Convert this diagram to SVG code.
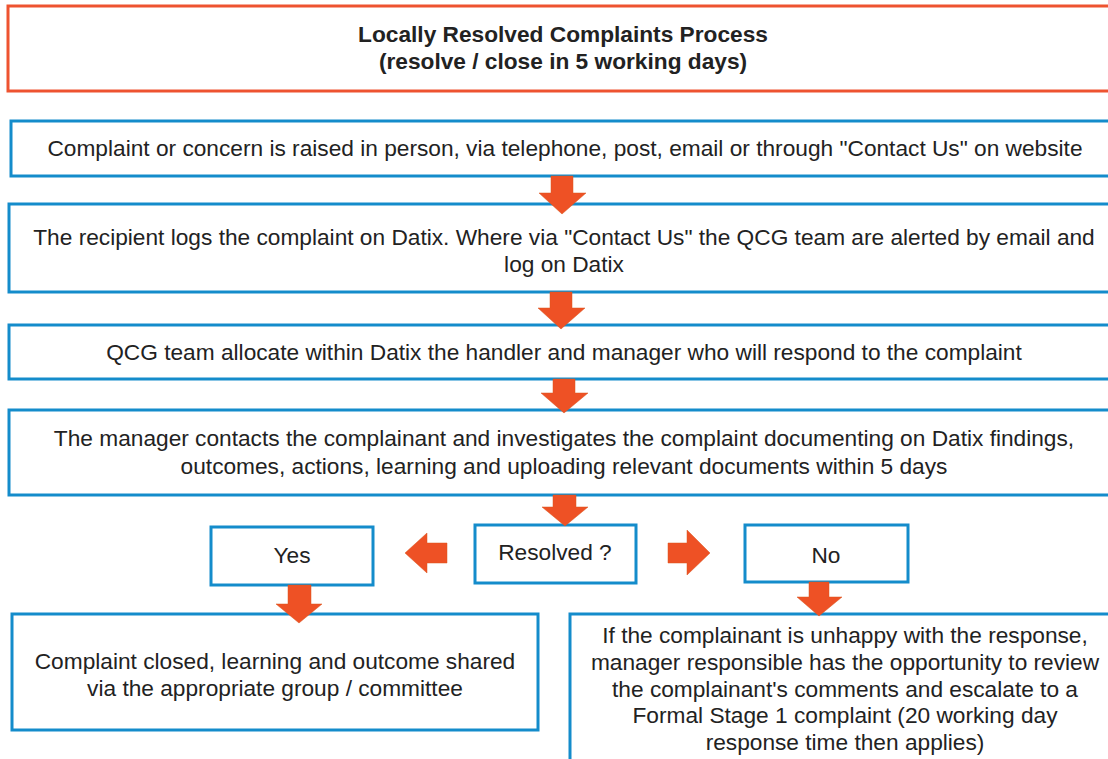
<svg xmlns="http://www.w3.org/2000/svg" width="1108" height="759" viewBox="0 0 1108 759">
<defs>
<style>
.red{fill:#fff;stroke:#EE5330;stroke-width:3}
.blue{fill:#fff;stroke:#148CCB;stroke-width:3}
.t{font-family:"Liberation Sans",Arial,sans-serif;font-size:22.7px;fill:#222;text-anchor:middle}
.b{font-weight:bold}
.arr{fill:#EE5125;stroke:#D8561F;stroke-width:0.5}
</style>
</defs>
<rect width="1108" height="759" fill="#fff"/>
<g id="title">
<rect class="red" x="8" y="6" width="1115" height="85"/>
<text class="t b" x="563" y="42">Locally Resolved Complaints Process</text>
<text class="t b" x="563" y="69">(resolve / close in 5 working days)</text>
</g>
<g id="n1">
<rect class="blue" x="11" y="121" width="1115" height="55"/>
<text class="t" x="565" y="156">Complaint or concern is raised in person, via telephone, post, email or through "Contact Us" on website</text>
</g>
<g id="n2">
<rect class="blue" x="9" y="204" width="1115" height="88"/>
<text class="t" x="564" y="245">The recipient logs the complaint on Datix. Where via "Contact Us" the QCG team are alerted by email and</text>
<text class="t" x="564" y="272">log on Datix</text>
</g>
<g id="n3">
<rect class="blue" x="9" y="325" width="1115" height="54"/>
<text class="t" x="564" y="360">QCG team allocate within Datix the handler and manager who will respond to the complaint</text>
</g>
<g id="n4">
<rect class="blue" x="9" y="410" width="1115" height="85"/>
<text class="t" x="564" y="446">The manager contacts the complainant and investigates the complaint documenting on Datix findings,</text>
<text class="t" x="564" y="474">outcomes, actions, learning and uploading relevant documents within 5 days</text>
</g>
<g id="resolved">
<rect class="blue" x="475" y="525" width="161" height="58"/>
<text class="t" x="555" y="560">Resolved ?</text>
</g>
<g id="yes">
<rect class="blue" x="211" y="527" width="162" height="58"/>
<text class="t" x="292" y="563">Yes</text>
</g>
<g id="no">
<rect class="blue" x="745" y="525" width="163" height="57"/>
<text class="t" x="826" y="563">No</text>
</g>
<g id="closed">
<rect class="blue" x="12" y="614" width="526" height="116"/>
<text class="t" x="275" y="669">Complaint closed, learning and outcome shared</text>
<text class="t" x="275" y="696">via the appropriate group / committee</text>
</g>
<g id="escalate">
<rect class="blue" x="570" y="614" width="560" height="160"/>
<text class="t" x="845" y="643">If the complainant is unhappy with the response,</text>
<text class="t" x="845" y="670">manager responsible has the opportunity to review</text>
<text class="t" x="845" y="697">the complainant's comments and escalate to a</text>
<text class="t" x="845" y="723">Formal Stage 1 complaint (20 working day</text>
<text class="t" x="845" y="750">response time then applies)</text>
</g>
<g id="connectors">
<polygon class="arr" points="551,176 573,176 573,193 586,193 562,214 539,193 551,193"/>
<polygon class="arr" points="550,292 572,292 572,308 585,308 561,329 538,308 550,308"/>
<polygon class="arr" points="553,379 575,379 575,393 588,393 564,413 541,393 553,393"/>
<polygon class="arr" points="553,495 576,495 576,507 588,507 565,526 542,507 553,507"/>
<polygon class="arr" points="447,543 427,543 427,533 405,553 427,573 427,563 447,563"/>
<polygon class="arr" points="668,543 687,543 687,530 710,553 687,575 687,563 668,563"/>
<polygon class="arr" points="288,585 311,585 311,604 322,604 299,623 276,604 288,604"/>
<polygon class="arr" points="809,582 829,582 829,597 842,597 819,616 797,597 809,597"/>
</g>
</svg>
